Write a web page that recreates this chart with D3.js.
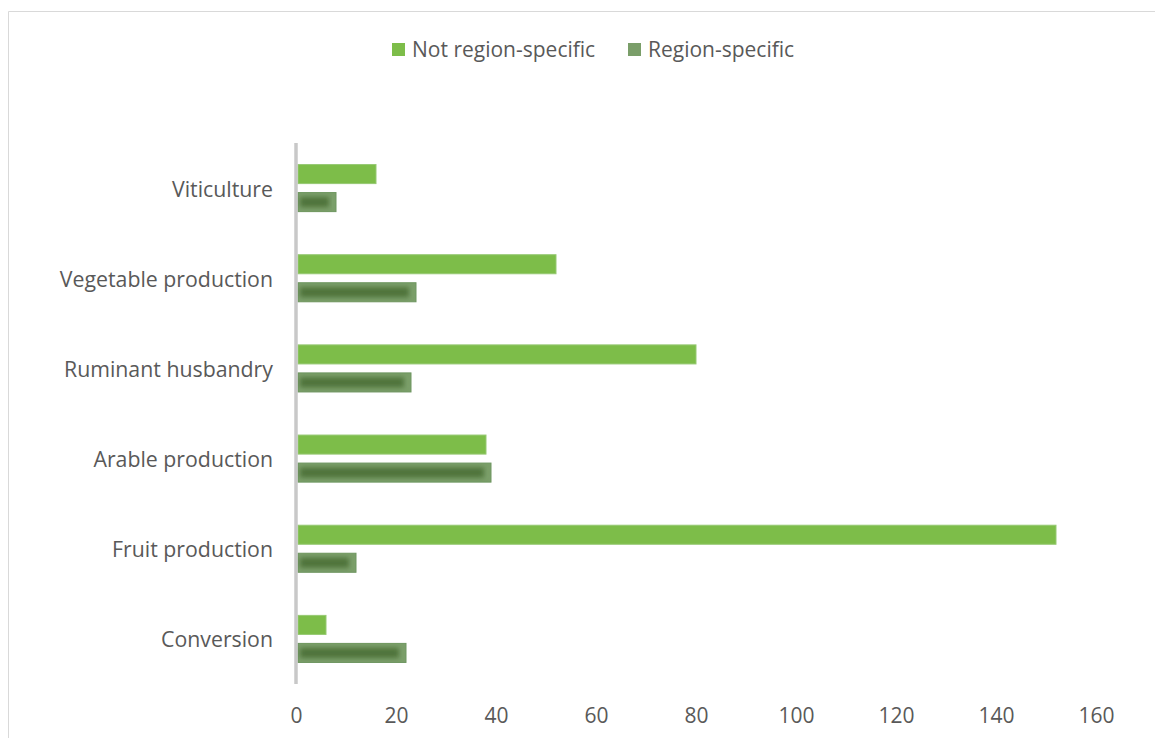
<!DOCTYPE html>
<html>
<head>
<meta charset="utf-8">
<script src="https://cdn.jsdelivr.net/npm/d3@7"></script>
<style>
  html, body { margin: 0; padding: 0; background: #fff; }
  svg { display: block; }
  text { font-family: "Open Sans", "Noto Sans", sans-serif; fill: #595959; }
</style>
</head>
<body>
<svg id="chart" width="1155" height="738"></svg>
<script>
// 数据
const categories = ["Viticulture", "Vegetable production", "Ruminant husbandry", "Arable production", "Fruit production", "Conversion"];
const seriesNames = ["Not region-specific", "Region-specific"];
const notRegionSpecific = [16, 52, 80, 38, 152, 6];
const regionSpecific = [8, 24, 23, 39, 12, 22];
const xTicks = [0, 20, 40, 60, 80, 100, 120, 140, 160];

const svg = d3.select("#chart");

// 外框
svg.append("path")
    .attr("d", "M8.5,738 V11.5 H1155")
    .attr("fill", "none")
    .attr("stroke", "#d9d9d9")
    .attr("stroke-width", 1);

const x = d3.scaleLinear().domain([0, 160]).range([296, 1096]);
const y = d3.scaleBand().domain(categories).range([143, 684])
    .paddingInner(0.478).paddingOuter(0.239);
const ySub = d3.scaleBand().domain(seriesNames).range([0, y.bandwidth()]).paddingInner(0.32);

// 模糊滤镜（深色条的阴影效果）
const defs = svg.append("defs");
defs.append("filter").attr("id", "soft")
    .attr("x", "-10%").attr("y", "-40%").attr("width", "120%").attr("height", "180%")
    .append("feGaussianBlur").attr("stdDeviation", 2.6);

const rows = categories.map((c, i) => ({ cat: c, nrs: notRegionSpecific[i], rs: regionSpecific[i] }));

// 绘制条形
const g = svg.append("g");
rows.forEach(d => {
    const y0 = y(d.cat);
    // Not region-specific
    g.append("rect")
        .attr("x", x(0) + 2)
        .attr("y", y0 + ySub(seriesNames[0]))
        .attr("width", x(d.nrs) - x(0) - 2)
        .attr("height", ySub.bandwidth())
        .attr("fill", "#7dbd49")
        .attr("stroke", "#96c973")
        .attr("stroke-width", 1);
    // Region-specific
    const ry = y0 + ySub(seriesNames[1]);
    const rw = x(d.rs) - x(0) - 2;
    g.append("rect")
        .attr("x", x(0) + 2)
        .attr("y", ry)
        .attr("width", rw)
        .attr("height", ySub.bandwidth())
        .attr("fill", "#7b9f6a")
        .attr("stroke", "#6e9660")
        .attr("stroke-width", 1);
    g.append("rect")
        .attr("x", x(0) + 4)
        .attr("y", ry + 4.5)
        .attr("width", Math.max(0, rw - 9))
        .attr("height", ySub.bandwidth() - 9)
        .attr("fill", "#4f733b")
        .attr("filter", "url(#soft)");
});

// 纵轴线
svg.append("line")
    .attr("x1", x(0)).attr("x2", x(0))
    .attr("y1", 143).attr("y2", 684)
    .attr("stroke", "#c8c8c8")
    .attr("stroke-width", 3.5);

// 分类标签
svg.append("g").selectAll("text")
    .data(categories)
    .join("text")
    .attr("x", 273)
    .attr("y", d => y(d) + y.bandwidth() / 2)
    .attr("text-anchor", "end")
    .attr("dominant-baseline", "central")
    .attr("font-size", 21.3)
    .text(d => d);

// 横轴
const xAxis = svg.append("g")
    .attr("transform", "translate(0,700)")
    .call(d3.axisBottom(x).tickValues(xTicks).tickSize(0).tickPadding(0));
xAxis.select(".domain").remove();
xAxis.selectAll("text")
    .attr("dy", null)
    .attr("y", 14.5)
    .attr("dominant-baseline", "central")
    .attr("font-size", 21)
    .attr("font-family", "\"Open Sans\", sans-serif")
    .attr("fill", "#595959");

// 图例
const legendColors = ["#7dbd49", "#7a9e69"];
const legendX = [392, 628];
const legend = svg.append("g");
seriesNames.forEach((s, i) => {
    legend.append("rect")
        .attr("x", legendX[i]).attr("y", 43)
        .attr("width", 13).attr("height", 13)
        .attr("fill", legendColors[i]);
    legend.append("text")
        .attr("x", legendX[i] + 20)
        .attr("y", 49)
        .attr("dominant-baseline", "central")
        .attr("font-size", 21)
        .text(s);
});
</script>
</body>
</html>
